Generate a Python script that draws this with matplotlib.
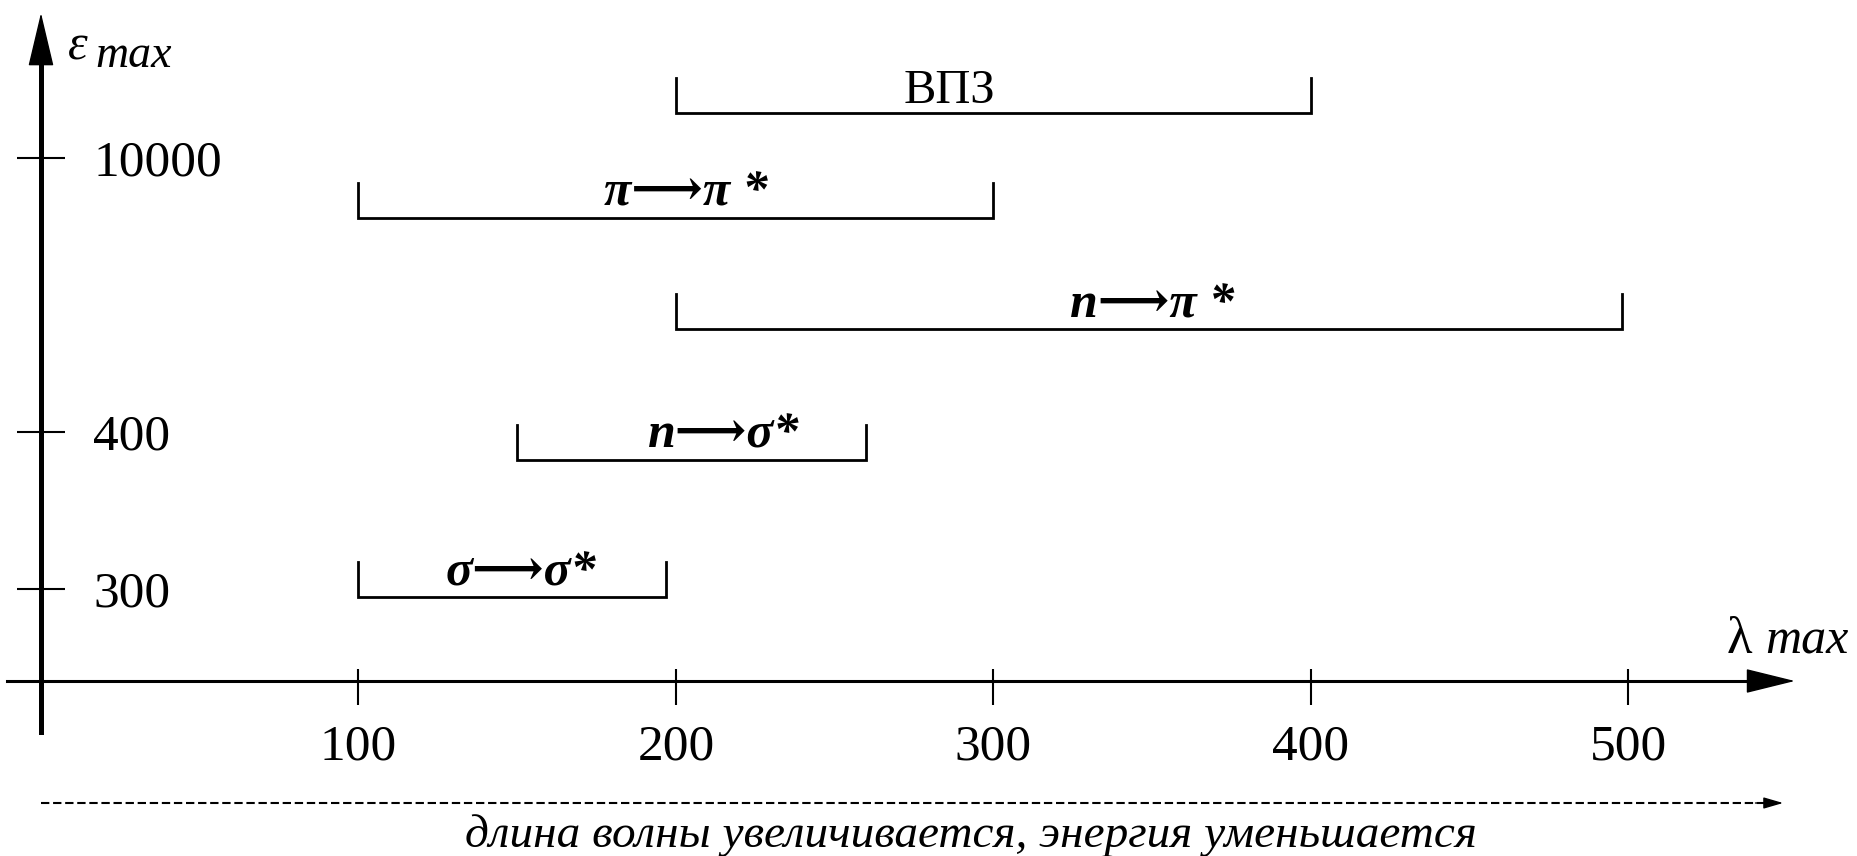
import matplotlib.pyplot as plt

plt.rcParams['font.family'] = ['Liberation Serif', 'DejaVu Serif']

# transitions: wavelength range (nm) and schematic row on the eps axis
names = ['σ⟶σ*', 'n⟶σ*', 'n⟶π *', 'π⟶π *', 'ВПЗ']
lam_start = [100, 150, 200, 100, 200]
lam_end = [197, 260, 498, 300, 400]
row = [0.84, 2.21, 3.52, 4.63, 5.68]
label_x = [151, 215, 350, 203, 286]

eps_ticks = [0.92, 2.49, 5.23]
eps_labels = ['300', '400', '10000']
lam_ticks = [100, 200, 300, 400, 500]

fig = plt.figure(figsize=(18.58, 8.56), dpi=100)
ax = fig.add_axes([0, 0, 1, 1])
ax.set_xlim(-12.91, 572.3)
ax.set_ylim(-1.75, 6.81)

# axes through the origin
ax.spines['top'].set_visible(False)
ax.spines['left'].set_visible(False)
ax.spines['right'].set_position(('data', 0))
ax.spines['right'].set_bounds(-0.51, 6.3)
ax.spines['right'].set_linewidth(3.6)
ax.spines['bottom'].set_position(('data', 0))
ax.spines['bottom'].set_bounds(-10.7, 540)
ax.spines['bottom'].set_linewidth(2.2)

ax.yaxis.set_ticks_position('right')
ax.set_yticks(eps_ticks, eps_labels)
ax.tick_params(axis='y', direction='inout', length=35, width=1.5, pad=20, labelsize=37)

ax.xaxis.remove_overlapping_locs = False
ax.set_xticks(lam_ticks)
ax.set_xticks(lam_ticks, minor=True)
ax.tick_params(axis='x', which='major', direction='out', length=17.3, width=1.5,
               pad=14, labelsize=37)
ax.tick_params(axis='x', which='minor', direction='in', length=8.6, width=1.5)

ax.annotate('', xy=(0, 6.68), xytext=(0, 6.0),
            arrowprops=dict(arrowstyle='-|>,head_length=3.5,head_width=0.83',
                            lw=1, color='black', shrinkA=0, shrinkB=0, mutation_scale=10))
ax.annotate('', xy=(552.4, 0), xytext=(530, 0),
            arrowprops=dict(arrowstyle='-|>,head_length=3.2,head_width=0.79',
                            lw=1, color='black', shrinkA=0, shrinkB=0, mutation_scale=10))

# axis names
ax.text(8.5, 6.21, 'ε', fontsize=36, style='italic', va='baseline', ha='left')
ax.text(17.2, 6.14, 'max', fontsize=33, style='italic', va='baseline', ha='left')
ax.text(531, 0.28, 'λ', fontsize=38, va='baseline', ha='left')
ax.text(543, 0.28, 'max', fontsize=36, style='italic', va='baseline', ha='left')

# brackets
h = 0.35
for name, x0, x1, y, xl in zip(names, lam_start, lam_end, row, label_x):
    ax.plot([x0, x0, x1, x1], [y + h, y, y, y + h], color='black', lw=2,
            solid_joinstyle='miter')
    if name == 'ВПЗ':
        ax.text(xl, y + 0.1, name, fontsize=35, ha='center', va='baseline')
    else:
        ax.text(xl, y + 0.12, name, fontsize=36, ha='center', va='baseline',
                style='italic', weight='bold')

# direction arrow at the bottom
ax.plot([0, 545], [-1.22, -1.22], color='black', lw=1.5, ls=(0, (4, 1.8)))
ax.annotate('', xy=(548.7, -1.22), xytext=(540, -1.22),
            arrowprops=dict(arrowstyle='-|>,head_length=1.2,head_width=0.35',
                            lw=1, color='black', shrinkA=0, shrinkB=0, mutation_scale=10))
ax.text(293, -1.55, 'длина волны увеличивается, энергия уменьшается',
        fontsize=34, style='italic', ha='center', va='center')

fig.savefig('out.png', dpi=100)
